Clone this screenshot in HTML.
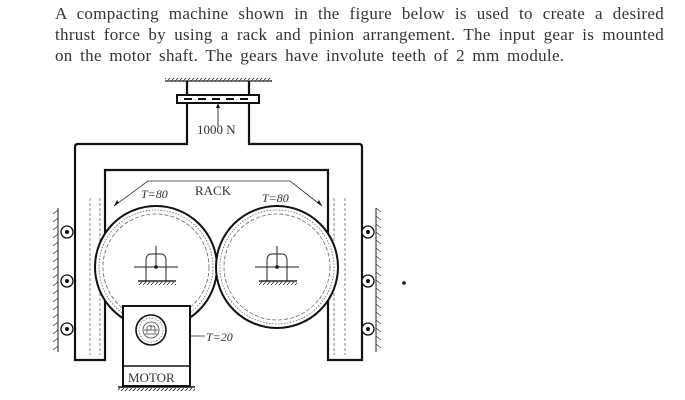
<!DOCTYPE html>
<html><head><style>
body{margin:0;width:685px;height:400px;background:#fff;overflow:hidden;position:relative;font-family:"Liberation Serif",serif;}
.t{position:absolute;left:55px;width:609px;font-size:17px;line-height:21px;color:#333;top:3px;letter-spacing:0.3px}
.t div{text-align:justify;text-align-last:justify;white-space:nowrap;}
.t div.l{text-align-last:left;word-spacing:3px}
svg{position:absolute;left:0;top:0}
</style></head><body>
<div class="t"><div>A compacting machine shown in the figure below is used to create a desired</div><div>thrust force by using a rack and pinion arrangement. The input gear is mounted</div><div class="l">on the motor shaft. The gears have involute teeth of 2 mm module.</div></div>
<svg width="685" height="400" viewBox="0 0 685 400" font-family="Liberation Serif, serif">
<defs>
<pattern id="hb" width="4" height="4" patternUnits="userSpaceOnUse"><path d="M0,4 L4,0" stroke="#333" stroke-width="0.8"/></pattern>
</defs>
<line x1="165" y1="81" x2="272" y2="81" stroke="#222" stroke-width="1.2"/>
<rect x="165" y="78" width="107" height="3" fill="url(#hb)"/>
<path d="M187,81 V144 H78 Q75,144 75,147 V360 H105 V170 H328 V360 H362 V147 Q362,144 359,144 H249 V81" fill="none" stroke="#111" stroke-width="2.2"/>
<rect x="177" y="95" width="82" height="8" fill="#fff" stroke="#111" stroke-width="2"/>
<g stroke="#111" stroke-width="2"><line x1="184" y1="99" x2="192" y2="99"/><line x1="198" y1="99" x2="206" y2="99"/><line x1="212" y1="99" x2="220" y2="99"/><line x1="226" y1="99" x2="234" y2="99"/><line x1="240" y1="99" x2="248" y2="99"/></g>
<line x1="218" y1="103" x2="218" y2="126" stroke="#444" stroke-width="1"/>
<path d="M218,103 l-2,5 h4z" fill="#111"/>
<text x="197" y="134" font-size="13" fill="#333">1000 N</text>
<g stroke="#666" stroke-width="0.8" stroke-dasharray="3,2"><line x1="90" y1="198" x2="90" y2="355"/><line x1="100" y1="198" x2="100" y2="355"/><line x1="334" y1="198" x2="334" y2="355"/><line x1="345" y1="198" x2="345" y2="355"/></g>
<g fill="#fff" stroke="#111" stroke-width="2"><circle cx="156" cy="267" r="61"/><circle cx="277" cy="267" r="61"/></g>
<g fill="none" stroke="#666" stroke-width="0.8"><circle cx="156" cy="267" r="57" stroke-dasharray="1.5,1.5"/><circle cx="156" cy="267" r="53" stroke-dasharray="4,2"/><circle cx="277" cy="267" r="57" stroke-dasharray="1.5,1.5"/><circle cx="277" cy="267" r="53" stroke-dasharray="4,2"/></g>
<g stroke="#222" stroke-width="1" fill="none">
<path d="M146,281 V261 Q146,254 151,254 H161 Q166,254 166,261 V281"/><line x1="134" y1="267" x2="178" y2="267"/><line x1="156" y1="246" x2="156" y2="267"/><line x1="138" y1="281" x2="176" y2="281" stroke-width="1.5"/>
<path d="M267,281 V261 Q267,254 272,254 H282 Q287,254 287,261 V281"/><line x1="255" y1="267" x2="299" y2="267"/><line x1="277" y1="246" x2="277" y2="267"/><line x1="259" y1="281" x2="297" y2="281" stroke-width="1.5"/>
</g>
<rect x="138" y="282" width="38" height="3" fill="url(#hb)"/><rect x="259" y="282" width="38" height="3" fill="url(#hb)"/>
<circle cx="156" cy="267" r="1.8" fill="#111"/><circle cx="277" cy="267" r="1.8" fill="#111"/>
<path d="M148,181 H290 L322,206" fill="none" stroke="#333" stroke-width="0.8"/>
<path d="M148,181 L114,206" fill="none" stroke="#333" stroke-width="0.8"/>
<path d="M114,206 l3,-6 l2,3z M322,206 l-3,-6 l-2,3z" fill="#111"/>
<text x="195" y="195" font-size="13" fill="#333">RACK</text>
<text x="141" y="198" font-size="12" font-style="italic" fill="#333">T=80</text>
<text x="262" y="202" font-size="12" font-style="italic" fill="#333">T=80</text>
<rect x="123" y="306" width="67" height="80" fill="#fff" stroke="#111" stroke-width="2"/>
<line x1="123" y1="366" x2="190" y2="366" stroke="#111" stroke-width="1.5"/>
<text x="128" y="382" font-size="13" fill="#333">MOTOR</text>
<line x1="118" y1="387" x2="195" y2="387" stroke="#111" stroke-width="1.5"/>
<rect x="118" y="388" width="77" height="3" fill="url(#hb)"/>
<circle cx="151" cy="330" r="15" fill="#fff" stroke="#111" stroke-width="1.6"/>
<circle cx="151" cy="330" r="12" fill="none" stroke="#666" stroke-width="0.7" stroke-dasharray="1.5,1.5"/>
<circle cx="151" cy="330" r="8" fill="none" stroke="#444" stroke-width="0.8"/>
<path d="M147,333 V328 Q147,326 149,326 H153 Q155,326 155,328 V333 M144,330 H158 M151,325 V330 M145,334 H157" fill="none" stroke="#333" stroke-width="0.7"/>
<line x1="190" y1="336" x2="205" y2="336" stroke="#333" stroke-width="0.8"/>
<text x="206" y="341" font-size="12" font-style="italic" fill="#333">T=20</text>
<line x1="58" y1="208" x2="58" y2="352" stroke="#222" stroke-width="1"/>
<line x1="376" y1="208" x2="376" y2="352" stroke="#222" stroke-width="1"/>
<g stroke="#333" stroke-width="0.8">
<path d="M58,210 l-5,4 M58,218 l-5,4 M58,226 l-5,4 M58,234 l-5,4 M58,242 l-5,4 M58,250 l-5,4 M58,258 l-5,4 M58,266 l-5,4 M58,274 l-5,4 M58,282 l-5,4 M58,290 l-5,4 M58,298 l-5,4 M58,306 l-5,4 M58,314 l-5,4 M58,322 l-5,4 M58,330 l-5,4 M58,338 l-5,4 M58,346 l-5,4"/>
<path d="M376,208 l5,4 M376,216 l5,4 M376,224 l5,4 M376,232 l5,4 M376,240 l5,4 M376,248 l5,4 M376,256 l5,4 M376,264 l5,4 M376,272 l5,4 M376,280 l5,4 M376,288 l5,4 M376,296 l5,4 M376,304 l5,4 M376,312 l5,4 M376,320 l5,4 M376,328 l5,4 M376,336 l5,4 M376,344 l5,4"/>
</g>
<g fill="#fff" stroke="#111" stroke-width="1.3">
<circle cx="67" cy="232" r="6"/><circle cx="67" cy="281" r="6"/><circle cx="67" cy="329" r="6"/>
<circle cx="368" cy="232" r="6"/><circle cx="368" cy="281" r="6"/><circle cx="368" cy="329" r="6"/>
</g>
<g fill="#111"><circle cx="67" cy="232" r="2"/><circle cx="67" cy="281" r="2"/><circle cx="67" cy="329" r="2"/><circle cx="368" cy="232" r="2"/><circle cx="368" cy="281" r="2"/><circle cx="368" cy="329" r="2"/>
<circle cx="404" cy="283" r="1.8"/></g>
</svg>
</body></html>
